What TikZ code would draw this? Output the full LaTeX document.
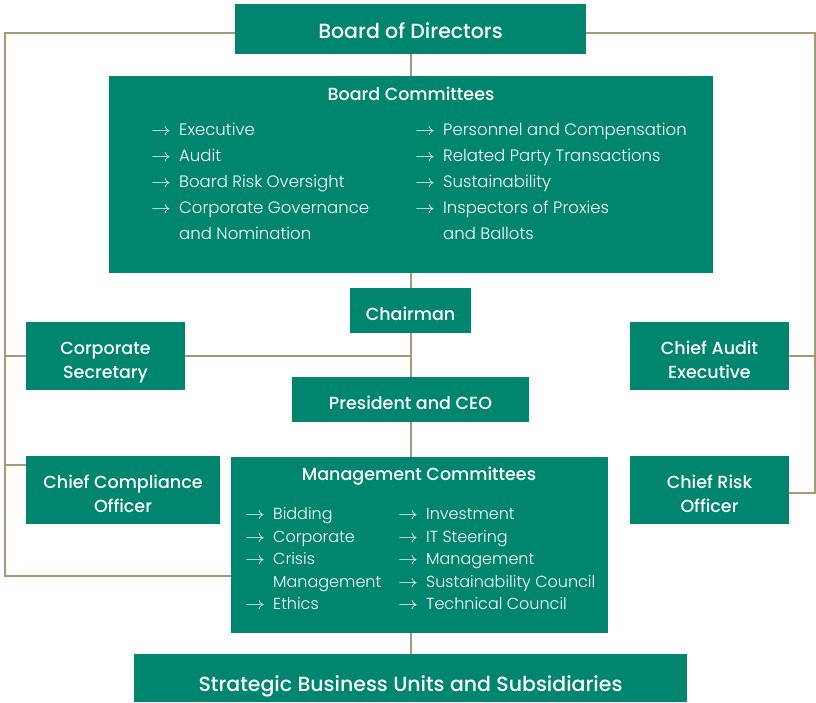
\documentclass[tikz,border=0pt]{standalone}
\usepackage{fontspec}
\setmainfont{Poppins}[UprightFont=* Light, BoldFont=* Medium]
\usepackage{tikz}
\usetikzlibrary{calc}
\usetikzlibrary{backgrounds}
\definecolor{boxgreen}{RGB}{0,133,110}
\definecolor{linetan}{RGB}{168,152,120}
\newcommand{\itemarrow}{\makebox[28pt][l]{\scalebox{1.15}[1]{$\rightarrow$}}}
\newcommand{\boxlabel}[2][-6pt]{\raisebox{#1}[\height][\depth]{\begin{tabular}{@{}c@{}}#2\end{tabular}}}

\begin{document}
\begin{tikzpicture}[x=1pt,y=-1pt,
    greenbox/.style={rectangle, fill=boxgreen, text=white, inner sep=0pt, outer sep=0pt, align=center},
    titletext/.style={text=white, font=\bfseries\fontsize{17.5}{24}\selectfont, align=center}
    ]
    \tikzset{listtext/.style = {text=white, inner sep=0pt, anchor=west, align=left}}
    \tikzset{conn/.style={draw=linetan, line width=2pt}}
    \useasboundingbox (0,0) rectangle (816,702);
    %
    %boxes
    %
    \node[greenbox, minimum width=351, minimum height=50,
        font=\bfseries\fontsize{20.5}{24}\selectfont] (bod) at (410.5,29) {\boxlabel[-5pt]{Board of Directors}};
    \node[greenbox, minimum width=604, minimum height=197] (bcomm) at (411,174.5) {};
    \node[greenbox, minimum width=121, minimum height=45, titletext] (chair) at (410.5,310.5) {\boxlabel[-5pt]{Chairman}};
    \node[greenbox, minimum width=159, minimum height=68, titletext] (corpsec) at (105.5,356) {\boxlabel{Corporate\\Secretary}};
    \node[greenbox, minimum width=159, minimum height=68, titletext] (cae) at (709.5,356) {\boxlabel{Chief Audit\\Executive}};
    \node[greenbox, minimum width=237, minimum height=45, titletext] (ceo) at (410.5,399.5) {\boxlabel[-5pt]{President and CEO}};
    \node[greenbox, minimum width=194, minimum height=68, titletext] (cco) at (123,490) {\boxlabel{Chief Compliance\\Officer}};
    \node[greenbox, minimum width=159, minimum height=68, titletext] (cro) at (709.5,490) {\boxlabel{Chief Risk\\Officer}};
    \node[greenbox, minimum width=377, minimum height=176] (mcomm) at (419.5,545) {};
    \node[greenbox, minimum width=553, minimum height=48,
        font=\bfseries\fontsize{20.5}{24}\selectfont] (sbu) at (410.5,678) {\boxlabel[-9pt]{Strategic Business Units and Subsidiaries}};
    %
    %committee lists
    %
    \node[titletext] (bctitle) at (411,94) {Board Committees};
    \node[listtext, font=\fontsize{16.5}{26}\selectfont] (bcleft) at (151,181) {%
        \itemarrow Executive\\
        \itemarrow Audit\\
        \itemarrow Board Risk Oversight\\
        \itemarrow Corporate Governance\\
        \hspace*{28pt}and Nomination};
    \node[listtext, font=\fontsize{16.5}{26}\selectfont] (bcright) at (415,181) {%
        \itemarrow Personnel and Compensation\\
        \itemarrow Related Party Transactions\\
        \itemarrow Sustainability\\
        \itemarrow Inspectors of Proxies\\
        \hspace*{28pt}and Ballots};
    \node[titletext] (mctitle) at (419,476) {Management Committees};
    \node[listtext, font=\fontsize{16}{22.5}\selectfont] (mcleft) at (245,559) {%
        \itemarrow Bidding\\
        \itemarrow Corporate\\
        \itemarrow Crisis\\
        \hspace*{28pt}Management\\
        \itemarrow Ethics};
    \node[listtext, font=\fontsize{16}{22.5}\selectfont] (mcright) at (398,559) {%
        \itemarrow Investment\\
        \itemarrow IT Steering\\
        \itemarrow Management\\
        \itemarrow Sustainability Council\\
        \itemarrow Technical Council};
    %
    %corners
    %
    \coordinate (ltop) at (5,33);
    \coordinate (lbot) at (5,576);
    \coordinate (rtop) at (815,33);
    \coordinate (rbot) at (815,493);
    \coordinate (ccotap) at (26,465);
    %
    %edges
    %
    \begin{pgfonlayer}{background}
    \draw[conn] (bod) -- (sbu);
    \draw[conn] (bod.west |- ltop) -- (ltop) -- (lbot) -- (lbot -| mcomm.west);
    \draw[conn] (bod.east |- rtop) -- (rtop) -- (rbot) -- (cro.east |- rbot);
    \draw[conn] (ltop |- corpsec) -- (corpsec.west);
    \draw[conn] (corpsec.east) -- (corpsec -| chair);
    \draw[conn] (ltop |- ccotap) -- (ccotap);
    \draw[conn] (rtop |- cae) -- (cae.east);
    \end{pgfonlayer}
\end{tikzpicture}
\end{document}
